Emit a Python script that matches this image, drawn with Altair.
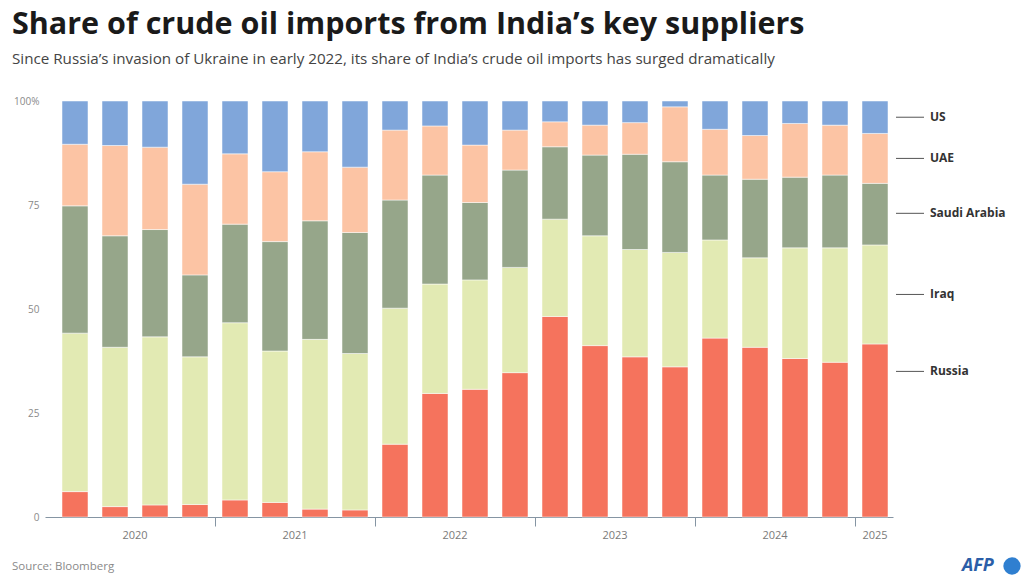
import altair as alt
import pandas as pd

quarters = ["2020Q1","2020Q2","2020Q3","2020Q4","2021Q1","2021Q2","2021Q3","2021Q4",
            "2022Q1","2022Q2","2022Q3","2022Q4","2023Q1","2023Q2","2023Q3","2023Q4",
            "2024Q1","2024Q2","2024Q3","2024Q4","2025Q1"]
russia = [6.1, 2.5, 2.9, 3.0, 4.1, 3.5, 1.9, 1.7, 17.5, 29.7, 30.7, 34.7, 48.2, 41.2, 38.5, 36.1, 43.0, 40.8, 38.1, 37.2, 41.6]
iraq   = [38.1, 38.3, 40.4, 35.5, 42.6, 36.4, 40.8, 37.6, 32.7, 26.3, 26.3, 25.3, 23.4, 26.4, 25.8, 27.5, 23.6, 21.5, 26.6, 27.5, 23.8]
saudi  = [30.6, 26.8, 25.8, 19.7, 23.7, 26.3, 28.5, 29.1, 26.0, 26.2, 18.6, 23.4, 17.4, 19.4, 22.9, 21.8, 15.6, 18.9, 17.0, 17.5, 14.8]
uae    = [14.8, 21.7, 19.8, 21.8, 16.9, 16.8, 16.6, 15.7, 16.8, 11.8, 13.8, 9.6, 6.0, 7.2, 7.6, 13.2, 11.0, 10.5, 12.9, 12.0, 12.0]
us     = [10.4, 10.7, 11.1, 20.0, 12.7, 17.0, 12.2, 15.9, 7.0, 6.0, 10.6, 7.0, 5.0, 5.8, 5.2, 1.4, 6.8, 8.3, 5.4, 5.8, 7.8]

countries = ["Russia", "Iraq", "Saudi Arabia", "UAE", "US"]
colors = ["#F5735D", "#E2EAB3", "#96A68A", "#FCC4A4", "#80A6DA"]
label_pos = [35, 53.5, 73, 86.2, 96.1]

years = ["2020", "2021", "2022", "2023", "2024", "2025"]
year_pos = [1.5, 5.5, 9.5, 13.5, 17.5, 20]
year_ticks = [3.5, 7.5, 11.5, 15.5, 19.5]

series = [russia, iraq, saudi, uae, us]
rows = []
for ci, (c, vals) in enumerate(zip(countries, series)):
    for qi, q in enumerate(quarters):
        rows.append({"quarter": q, "idx": qi, "country": c, "order": ci, "share": vals[qi]})
df = pd.DataFrame(rows)

W, H = 848, 416
xscale = alt.Scale(domain=[-0.75, 20.45], nice=False, zero=False)
yscale = alt.Scale(domain=[0, 100], nice=False)

bars = alt.Chart(df).transform_stack(
    stack="share", as_=["y0", "y1"], groupby=["idx"], sort=[{"field": "order", "order": "ascending"}]
).transform_calculate(
    x0="datum.idx - 0.325", x1="datum.idx + 0.325"
).mark_bar(stroke="white", strokeWidth=0.5).encode(
    x=alt.X("x0:Q", scale=xscale,
            axis=alt.Axis(values=year_ticks, labels=False, title=None, grid=False,
                          tickSize=9, tickColor="#8595a3", domainColor="#8595a3",
                          domainWidth=1, tickWidth=1)),
    x2="x1:Q",
    y=alt.Y("y0:Q", scale=yscale,
            axis=alt.Axis(values=[0, 25, 50, 75, 100], title=None, grid=False, domain=False,
                          ticks=False, labelPadding=6, labelFontSize=10, labelColor="#8a8a8a",
                          labelFont="Open Sans",
                          labelExpr="datum.value == 100 ? '100%' : datum.label")),
    y2="y1:Q",
    color=alt.Color("country:N", scale=alt.Scale(domain=countries, range=colors), legend=None),
)

lab_df = pd.DataFrame({"country": countries, "pos": label_pos})
lab_lines = alt.Chart(lab_df).mark_rule(color="#555555", strokeWidth=1).encode(
    x=alt.value(W + 3), x2=alt.value(W + 31),
    y=alt.Y("pos:Q", scale=yscale),
)
lab_text = alt.Chart(lab_df).mark_text(
    align="left", baseline="middle", font="Open Sans", fontSize=12, fontWeight="bold", color="#333333"
).encode(
    x=alt.value(W + 37),
    y=alt.Y("pos:Q", scale=yscale),
    text="country:N",
)

yr_df = pd.DataFrame({"year": years, "pos": year_pos})
yr_text = alt.Chart(yr_df).mark_text(
    baseline="middle", font="Open Sans", fontSize=11, color="#7a7a7a"
).encode(
    x=alt.X("pos:Q", scale=xscale),
    y=alt.value(H + 19),
    text="year:N",
)

txt_df = pd.DataFrame({
    "t": ["Share of crude oil imports from India’s key suppliers",
          "Since Russia’s invasion of Ukraine in early 2022, its share of India’s crude oil imports has surged dramatically",
          "Source: Bloomberg"],
})
title = alt.Chart(txt_df.iloc[[0]]).mark_text(
    align="left", baseline="alphabetic", font="Open Sans", fontSize=30.5, fontWeight="bold", color="#1a1a1a"
).encode(x=alt.value(-33), y=alt.value(-67), text="t:N")
subtitle = alt.Chart(txt_df.iloc[[1]]).mark_text(
    align="left", baseline="alphabetic", font="Open Sans", fontSize=15.2, color="#444444"
).encode(x=alt.value(-33), y=alt.value(-37), text="t:N")
source = alt.Chart(txt_df.iloc[[2]]).mark_text(
    align="left", baseline="middle", font="Open Sans", fontSize=11.5, color="#8a8a8a"
).encode(x=alt.value(-33), y=alt.value(466), text="t:N")

logo_df = pd.DataFrame({"t": ["AFP"]})
logo_text = alt.Chart(logo_df).mark_text(
    align="left", baseline="middle", font="Open Sans", fontSize=18, fontWeight="bold",
    fontStyle="italic", color="#2b5ea8"
).encode(x=alt.value(917), y=alt.value(465), text="t:N")
logo_dot = alt.Chart(logo_df).mark_point(
    shape="circle", filled=True, size=300, color="#2f7fd0", opacity=1
).encode(x=alt.value(967), y=alt.value(465))

chart = alt.layer(bars, lab_lines, lab_text, yr_text, title, subtitle, source, logo_text, logo_dot).properties(
    width=W, height=H,
    padding={"left": 45, "top": 101, "right": 131, "bottom": 58},
    autosize=alt.AutoSizeParams(type="none"),
    background="white",
).configure_view(stroke=None)

chart.save("out.html", embed_options={"renderer": "svg", "actions": False})
